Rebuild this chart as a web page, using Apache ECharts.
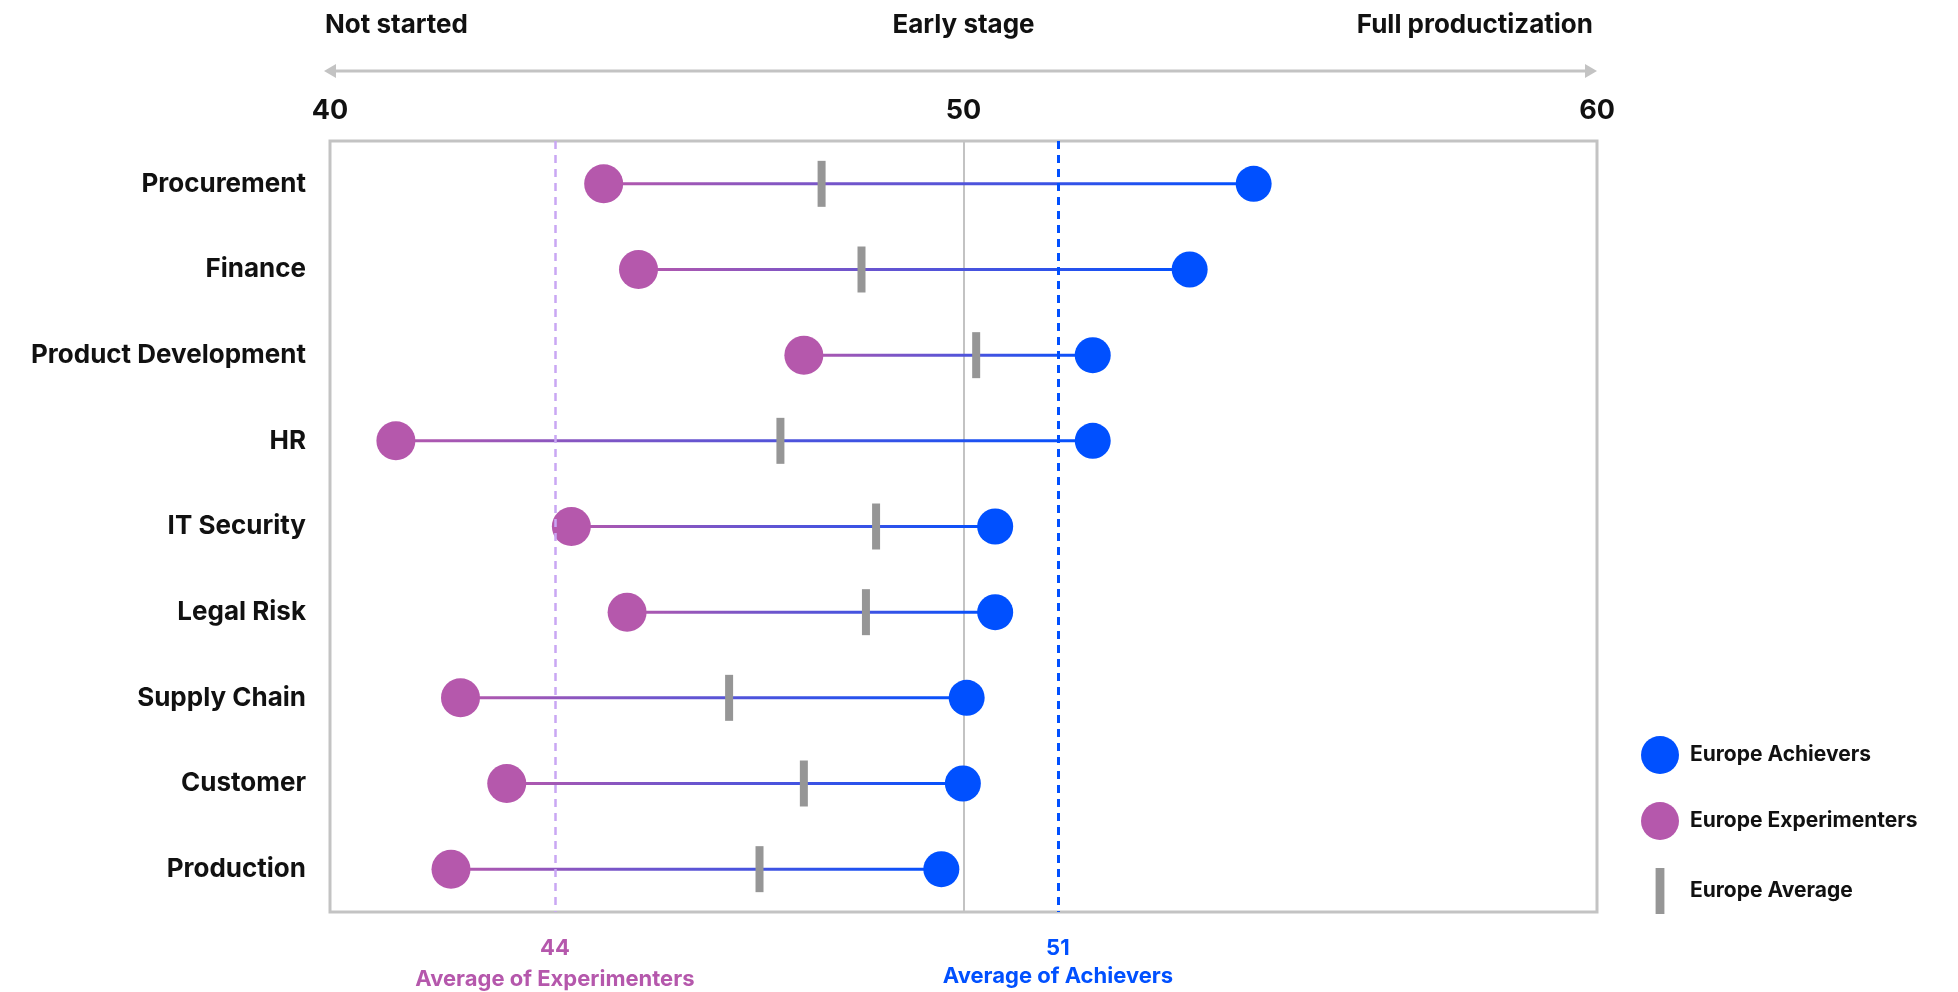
<!DOCTYPE html>
<html>
<head>
<meta charset="utf-8">
<script src="https://cdn.jsdelivr.net/npm/echarts@6/dist/echarts.min.js"></script>
<style>
  html, body { margin: 0; padding: 0; background: #ffffff; }
  #chart { width: 1958px; height: 992px; }
</style>
</head>
<body>
<div id="chart"></div>
<script>
// Business functions, top to bottom
const functions = ['Procurement', 'Finance', 'Product Development', 'HR', 'IT Security',
  'Legal Risk', 'Supply Chain', 'Customer', 'Production'];

// Maturity scores per function
const experimenters = [44.32, 44.87, 47.48, 41.04, 43.81, 44.69, 42.06, 42.79, 41.91];
const europeAverage = [47.76, 48.39, 50.20, 47.11, 48.62, 48.46, 46.30, 47.48, 46.78];
const achievers     = [54.58, 53.57, 52.04, 52.04, 50.50, 50.50, 50.05, 49.99, 49.65];

// Overall averages across functions
const experimentersOverall = 43.55;
const achieversOverall = 51.49;

// Scale
const scaleMin = 40;
const scaleMax = 60;
const scaleStep = 10;
const stageLabels = ['Not started', 'Early stage', 'Full productization'];

const FONT = 'Inter, "Noto Sans", sans-serif';
const PURPLE = '#b558ac';
const BLUE = '#0050ff';
const GREY = '#969696';
const FRAME = '#c3c3c3';

const chart = echarts.init(document.getElementById('chart'));

const connectorData = functions.map((f, i) => [experimenters[i], achievers[i], i]);

chart.setOption({
  animation: false,
  backgroundColor: '#ffffff',
  grid: {
    left: 330, right: 361, top: 141, bottom: 80,
    show: true, borderColor: FRAME, borderWidth: 3
  },
  xAxis: {
    type: 'value', position: 'top',
    min: scaleMin, max: scaleMax, interval: scaleStep,
    axisLine: { show: false }, axisTick: { show: false },
    axisLabel: { fontFamily: FONT, fontSize: 27, fontWeight: 700, color: '#111', margin: 17 },
    splitLine: { lineStyle: { color: FRAME, width: 2 } }
  },
  yAxis: {
    type: 'category', data: functions, inverse: true,
    axisLine: { show: false }, axisTick: { show: false }, splitLine: { show: false },
    axisLabel: { fontFamily: FONT, fontSize: 26, fontWeight: 700, color: '#111', margin: 24 }
  },
  legend: {
    orient: 'vertical', left: 1636, top: 731,
    itemWidth: 38, itemHeight: 46, itemGap: 28,
    selectedMode: false,
    textStyle: { fontFamily: FONT, fontSize: 21, fontWeight: 700, color: '#111', padding: [0, 0, 0, 6] },
    data: [
      { name: 'Europe Achievers', icon: 'circle' },
      { name: 'Europe Experimenters', icon: 'circle' },
      { name: 'Europe Average', icon: 'path://M0 0H9V47H0Z' }
    ]
  },
  series: [
    {
      // overall average reference lines
      type: 'scatter', data: [], z: 1, silent: true,
      markLine: {
        silent: true, symbol: 'none', label: { show: false },
        data: [
          { xAxis: experimentersOverall, lineStyle: { color: '#c9a7f3', width: 2.5, type: [8, 6] } },
          { xAxis: achieversOverall, lineStyle: { color: BLUE, width: 3, type: [8, 6] } }
        ]
      }
    },
    {
      type: 'custom', z: 2, silent: true,
      encode: { x: [0, 1], y: 2 },
      data: connectorData,
      renderItem: function (params, api) {
        const a = api.coord([api.value(0), api.value(2)]);
        const b = api.coord([api.value(1), api.value(2)]);
        return {
          type: 'line',
          shape: { x1: a[0], y1: a[1], x2: b[0], y2: b[1] },
          style: {
            lineWidth: 3,
            stroke: new echarts.graphic.LinearGradient(a[0], a[1], b[0], b[1], [
              { offset: 0, color: PURPLE },
              { offset: 1, color: BLUE }
            ], true)
          }
        };
      }
    },
    {
      name: 'Europe Average', type: 'scatter', z: 3,
      symbol: 'rect', symbolSize: [8, 46],
      itemStyle: { color: GREY, opacity: 1 },
      data: functions.map((f, i) => [europeAverage[i], f])
    },
    {
      name: 'Europe Experimenters', type: 'scatter', z: 4,
      symbolSize: 39, itemStyle: { color: PURPLE, opacity: 1 },
      data: functions.map((f, i) => [experimenters[i], f])
    },
    {
      name: 'Europe Achievers', type: 'scatter', z: 4,
      symbolSize: 36, itemStyle: { color: BLUE, opacity: 1 },
      data: functions.map((f, i) => [achievers[i], f])
    }
  ]
});

// Annotations placed through the value axis
const px = v => chart.convertToPixel({ xAxisIndex: 0 }, v);
const xMin = px(scaleMin), xMid = px((scaleMin + scaleMax) / 2), xMax = px(scaleMax);
const arrowY = 71;
const head = 12;

function label(text, x, y, align, size, color) {
  return {
    type: 'text', x: x, y: y, silent: true,
    style: {
      text: text, fill: color, align: align, verticalAlign: 'middle',
      font: '700 ' + size + 'px ' + FONT
    }
  };
}

chart.setOption({
  graphic: [
    label(stageLabels[0], xMin - 5, 25, 'left', 26, '#111'),
    label(stageLabels[1], xMid, 25, 'center', 26, '#111'),
    label(stageLabels[2], xMax - 4, 25, 'right', 26, '#111'),
    {
      type: 'line', silent: true,
      shape: { x1: xMin - 3, y1: arrowY, x2: xMax - 3, y2: arrowY },
      style: { stroke: FRAME, lineWidth: 3 }
    },
    {
      type: 'polygon', silent: true,
      shape: { points: [[xMin - 6, arrowY], [xMin - 6 + head, arrowY - 7], [xMin - 6 + head, arrowY + 7]] },
      style: { fill: FRAME }
    },
    {
      type: 'polygon', silent: true,
      shape: { points: [[xMax, arrowY], [xMax - head, arrowY - 7], [xMax - head, arrowY + 7]] },
      style: { fill: FRAME }
    },
    label(String(Math.round(experimentersOverall)), px(experimentersOverall), 948, 'center', 22, PURPLE),
    label('Average of Experimenters', px(experimentersOverall), 979, 'center', 22, PURPLE),
    label(String(Math.round(achieversOverall)), px(achieversOverall), 948, 'center', 22, BLUE),
    label('Average of Achievers', px(achieversOverall), 976, 'center', 22, BLUE)
  ]
});
</script>
</body>
</html>
